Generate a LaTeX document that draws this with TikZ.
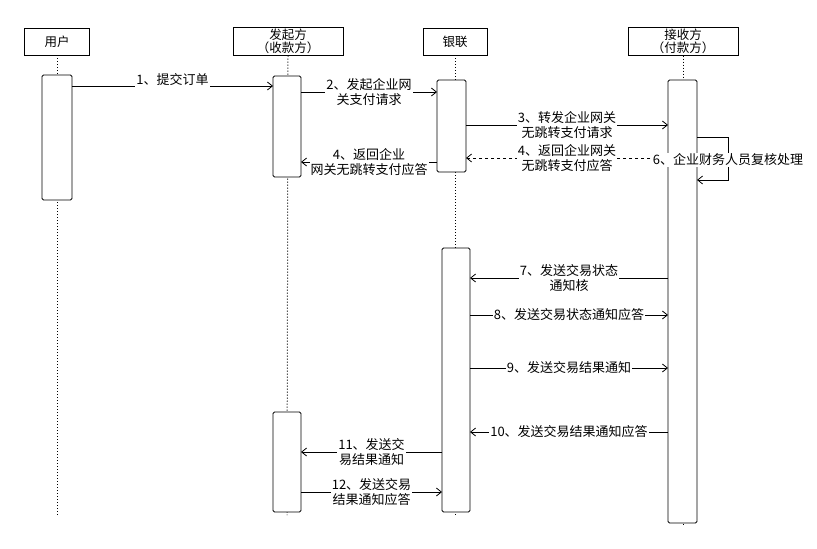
\documentclass[tikz,border=0pt]{standalone}
\usepackage{fontspec}
\setmainfont{Noto Sans CJK SC}
\usetikzlibrary{arrows.meta}
\begin{document}
\begin{tikzpicture}[x=1pt,y=-1pt,font=\fontsize{13}{15}\selectfont,line width=0.9pt,
 hdr/.style={draw,fill=white,minimum height=27pt,inner sep=1pt,align=center,font=\fontsize{12.5}{13.5}\selectfont},
 bar/.style={draw,fill=white,rounded corners=1.5pt},
 life/.style={dotted,line width=1pt},
 msg/.style={-{Straight Barb[length=5pt,width=8pt]},line width=0.8pt},
 lbl/.style={fill=white,inner sep=1pt,align=center}]
\useasboundingbox (0,0) rectangle (817,549);
\node[hdr,minimum width=65pt] (hu) at (57,41.5) {用户};
\node[hdr,minimum width=110pt] (hf) at (288,41.5) {发起方\\（收款方）};
\node[hdr,minimum width=64pt] (hy) at (455,41.5) {银联};
\node[hdr,minimum width=110pt] (hj) at (683,41.5) {接收方\\（付款方）};
\coordinate (eu) at (57,515); \coordinate (ef) at (287,515);
\coordinate (ey) at (455,515); \coordinate (ej) at (683,525);
\draw[life] (hu.south) -- (eu);
\draw[life] (hf.south) -- (ef);
\draw[life] (hy.south) -- (ey);
\draw[life] (hj.south) -- (ej);
\node[bar,minimum width=30pt,minimum height=125pt] (au) at (57,137.5) {};
\node[bar,minimum width=28pt,minimum height=101pt] (af1) at (287,126.5) {};
\node[bar,minimum width=28pt,minimum height=100pt] (af2) at (287,462) {};
\node[bar,minimum width=29pt,minimum height=92pt] (ay1) at (451.5,126) {};
\node[bar,minimum width=28pt,minimum height=264pt] (ay2) at (456,380) {};
\node[bar,minimum width=29pt,minimum height=443pt] (aj) at (682.5,301.5) {};
\draw[msg] (72,86) -- node[lbl,above=-1pt]{1、提交订单} (273,86);
\draw[msg] (301,92) -- node[lbl]{2、发起企业网\\关支付请求} (437,92);
\draw[msg] (466,125) -- node[lbl]{3、转发企业网关\\无跳转支付请求} (668,125);
\draw[msg,dashed] (668,158) -- node[lbl]{4、返回企业网关\\无跳转支付应答} (466,158);
\draw[msg] (437,162) -- node[lbl]{4、返回企业\\网关无跳转支付应答} (301,162);
\draw[msg] (697,137) -- (728,137) -- (728,180) -- (697,180);
\node[lbl] (l6) at (728,160) {6、企业财务人员复核处理};
\draw[msg] (668,278) -- node[lbl]{7、发送交易状态\\通知核} (470,278);
\draw[msg] (470,315) -- node[lbl]{8、发送交易状态通知应答} (668,315);
\draw[msg] (470,368) -- node[lbl]{9、发送交易结果通知} (668,368);
\draw[msg] (668,432) -- node[lbl]{10、发送交易结果通知应答} (470,432);
\draw[msg] (442,452) -- node[lbl]{11、发送交\\易结果通知} (301,452);
\draw[msg] (301,492) -- node[lbl]{12、发送交易\\结果通知应答} (442,492);
\end{tikzpicture}
\end{document}
